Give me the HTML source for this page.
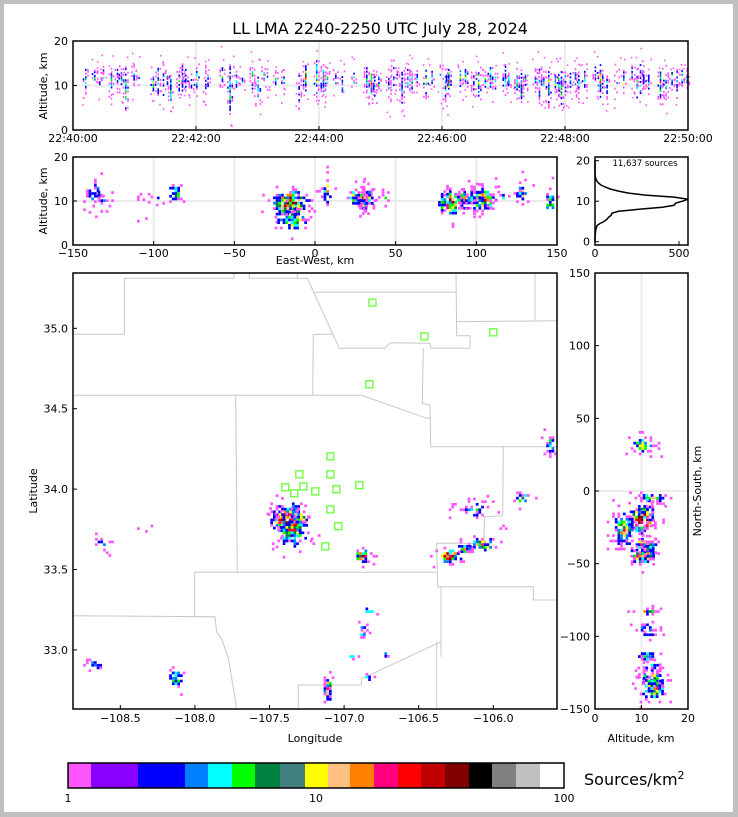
<!DOCTYPE html>
<html><head><meta charset="utf-8">
<style>
html,body{margin:0;padding:0;background:#c0c0c0;}
svg{display:block;font-family:"DejaVu Sans","Liberation Sans",sans-serif;}
</style></head>
<body>
<svg id="fig" width="738" height="817" viewBox="0 0 738 817" xmlns="http://www.w3.org/2000/svg">
<rect x="0" y="0" width="738" height="817" fill="#c0c0c0"/>
<rect x="4" y="4" width="729" height="808" fill="#ffffff"/>
<text x="380" y="34" font-size="16" text-anchor="middle">LL LMA 2240-2250 UTC July 28, 2024</text>
<g id="gTime"></g>
<g id="gEW"></g>
<g id="gHist"></g>
<g id="gMap"></g>
<g id="gNS"></g>
<g id="gCbar"></g>
<text x="584" y="785" font-size="16">Sources/km<tspan font-size="11" dy="-6">2</tspan></text>
</svg>
<script>
// ---------- DATA ----------
const flashTimes=[11.7,20.5,25.4,29,36.8,42.6,46.5,50.7,58.8,63.7,77.7,82.3,87.5,91.4,94.6,102.8,106,109.3,114.8,120,128.8,131,145,152.5,158.7,164.6,174.3,179.8,185.7,189,197,205.2,219.8,226.3,237,243.6,247.5,255.6,262,273.5,285.9,290.4,293.7,297.6,307.3,312.2,315.5,320.3,325.9,330,335,343.7,349.6,357.7,362.6,365.9,377.2,382.1,390.2,395,401.6,406.5,411.4,421.2,424.4,432.5,436.8,440.7,450.4,454.3,458.5,463.4,469.9,473.2,475.8,479.7,484.6,489.5,492.7,498.5,508.9,513.9,520.3,530,536.6,544.7,549.6,552.9,556.1,561,572.4,577.9,583.7,588.6,593.5,598.4];
const flashTop=[14,13,13,14,13,14,13,14,14,13,12,14,14,13,12,13,14,13,12,14,14,13,15,14,13,12,14,13,14,13,13,13,12,14,15,14,14,13,13,13,14,13,12,13,13,15,13,13,14,13,13,13,13,14,13,13,14,14,13,14,13,14,13,14,13,13,13,13,13,14,13,13,12,13,13,13,14,13,13,14,14,14,13,13,13,14,14,15,14,13,13,14,14,13,13,13];
const flashBot=[8,10,9,10,7,8,9,4,10,10,8,7,7,9,5,8,8,8,7,8,6,9,8,4,8,9,8,5,9,9,9,8,5,8,7,7,8,5,6,8,8,7,6,8,6,8,9,4,8,8,9,7,8,9,6,8,9,8,7,6,8,8,8,7,8,7,5,8,9,6,8,5,8,6,5,7,8,9,7,8,9,7,7,8,7,8,6,7,8,8,7,6,9,8,9,9];
const flashPeak=[0.5,0.5,0.4,0.4,0.5,0.4,0.5,0.5,0.4,0.3,0.6,0.5,0.4,0.5,0.5,0.4,0.5,0.5,0.4,0.5,0.3,0.4,0.5,0.6,0.4,0.4,0.5,0.5,0.4,0.3,0.4,0.4,0.4,0.8,0.6,0.7,0.5,0.3,0.4,0.4,0.5,0.8,0.4,0.5,0.4,0.4,0.3,0.4,0.5,0.5,0.4,0.5,0.4,0.3,0.5,0.8,0.5,0.5,0.4,0.5,0.4,0.6,0.4,0.5,0.4,0.5,0.5,0.4,0.4,0.5,0.4,0.6,0.6,0.5,0.6,0.4,0.3,0.6,0.4,0.5,0.4,0.8,0.4,0.3,0.5,0.4,0.4,0.5,0.4,0.4,0.8,0.4,0.4,0.5,0.4,0.5];
// clusters in km relative to network center
const clX=[-16,-15,29,83,103,92,98,128,145,116,33,30,28,23,43,33,7,-87,-137,-133,-107,-98];
const clY=[-19,-26,-44,-44,-36,-39,-12,-4,32,-25,-82,-93,-98,-113,-111,-127,-135,-128,-119,-36,-25,-5];
const clAlt=[9.8,6,10.5,10,10.5,10.5,11,12,10,11,11,11,11,11,11,11,12.5,12,12,11,10,11];
const clRx=[10,9,5,7,8,5,9,4,3.5,2,3,3,3,3,2,3,3,4,5,6,6,2];
const clRy=[9,11,4,5,4,3,5,4,6,2,2,3,2,3,2,3,8,6,4,4,3,1];
const clRz=[2.5,2.2,2,2.5,2.5,2,2,2.5,2.5,1,2,2,2,2,1.5,2,2.5,2,2.5,2.5,2,1];
const clPeak=[1.3,0.75,1.0,1.05,0.85,0.7,0.4,0.6,0.6,0.4,0.65,0.55,0.5,0.55,0.5,0.5,0.75,0.6,0.4,0.3,0.2,0.3];
const stLon=[-106.81,-106.462,-106.0,-106.831,-107.092,-107.30,-107.092,-107.394,-107.273,-107.334,-107.193,-107.052,-106.898,-107.092,-107.039,-107.126];
const stLat=[35.16,34.95,34.975,34.652,34.204,34.092,34.092,34.011,34.017,33.974,33.986,33.999,34.024,33.874,33.769,33.644];
const histAlt=[0,1,2,3,4,4.5,5,5.5,6,6.5,7,7.5,8,8.5,9,9.5,10,10.5,11,11.5,12,12.5,13,13.5,14,14.5,15,16,17,18,19,20];
const histCount=[0,0,2,5,12,30,55,70,80,95,100,140,260,400,470,480,520,555,470,300,200,140,90,60,35,20,10,2,0,0,0,0];
const timeTicks=["22:40:00","22:42:00","22:44:00","22:46:00","22:48:00","22:50:00"];
const ewTicks=[-150,-100,-50,0,50,100,150];
const lonTicks=[-108.5,-108.0,-107.5,-107.0,-106.5,-106.0];
const latTicks=[33.0,33.5,34.0,34.5,35.0];
const nsTicks=[150,100,50,0,-50,-100,-150];
const cbColors=["#ff55ff","#8800ff","#0000ff","#0080ff","#00ffff","#00ff00","#008040","#408080","#ffff00","#ffc080","#ff8000","#ff0080","#ff0000","#c00000","#800000","#000000","#808080","#c0c0c0","#ffffff"];
const cbEdges=[68,91,138,185,208,232,255,280,305,328,350,374,398,421,445,469,492,516,540,564];
const densColors=["#ff55ff","#ff55ff","#0000ff","#0000ff","#0080ff","#00ffff","#00ff00","#008040","#ffff00","#ffc080","#ff8000","#ff0080","#ff0000","#c00000","#800000"];

// ---------- AXES ----------
const NS="http://www.w3.org/2000/svg";
const tx=t=>73+t*615/600, tAy=a=>130-a*89/20;
const ex=k=>315+k*1.6133, eAy=a=>245-a*88/20;
const mx=k=>315+k*1.6133, my=k=>491-k*1.4533;
const lonX=l=>73+(l+108.817)*149.2, latY=l=>273+(35.344-l)*160.8;
const nx=a=>595+a*93/20;
const hx=c=>595+c*0.168, hy=a=>241.7-a*4.05;

function el(tag,attrs,parent){const e=document.createElementNS(NS,tag);for(const k in attrs)e.setAttribute(k,attrs[k]);parent.appendChild(e);return e;}
function txt(parent,x,y,s,anchor,size){const t=el('text',{x:x,y:y,'font-size':size||11,'text-anchor':anchor||'middle'},parent);t.textContent=s;return t;}
function hash(a,b,c){let h=(a*374761393+b*668265263+c*2147483647)|0;h=Math.imul(h^(h>>>13),1274126177);h=h^(h>>>16);return ((h>>>0)%10000)/10000;}
function colorFor(v){return densColors[Math.max(0,Math.min(densColors.length-1,Math.floor(v*densColors.length)))];}

// speckled cloud of cells in pixel space
function cloud(g,cx,cy,rx,ry,peak,cell,seed){
  const nx_=Math.ceil(rx*2/cell), ny_=Math.ceil(ry*2/cell);
  for(let i=-nx_;i<=nx_;i++)for(let j=-ny_;j<=ny_;j++){
    const dx=i*cell/rx, dy=j*cell/ry, d2=dx*dx+dy*dy;
    const dens=peak*Math.exp(-d2*1.4);
    const h=hash(i+seed*31,j+seed*7,seed), h2=hash(j+seed,i+7,seed+3);
    const p=Math.min(0.92,dens*1.6+0.02*(d2<5?1:0));
    if(h>p) continue;
    const r=el('rect',{x:(cx+i*cell).toFixed(1),y:(cy+j*cell).toFixed(1),width:cell,height:cell,fill:colorFor(dens*(0.25+0.95*h2))},g);
    
    
  }
}
function frame(g,x,y,w,h,name){const r=el('rect',{x:x,y:y,width:w,height:h,fill:'none',stroke:'#000','stroke-width':1.5},g);}
function grid(g,x1,y1,x2,y2){el('line',{x1:x1,y1:y1,x2:x2,y2:y2,stroke:'#ebebeb','stroke-width':2},g);}
function tickV(g,x,yb,up){el('line',{x1:x,y1:yb,x2:x,y2:yb+(up?-4:4),stroke:'#000'},g);}
function tickH(g,xl,y,right){el('line',{x1:xl,y1:y,x2:xl+(right?4:-4),y2:y,stroke:'#000'},g);}

// ---------- TIME PANEL ----------
(function(){
  const g=document.getElementById('gTime');
  el('rect',{x:73,y:41,width:615,height:89,fill:'#fff'},g);
  grid(g,73,tAy(10),688,tAy(10));
  for(let i=1;i<5;i++)grid(g,tx(i*120),41,tx(i*120),130);
  flashTimes.forEach((t,i)=>{
    const top=flashTop[i],bot=flashBot[i],pk=flashPeak[i],mid=(top+bot)/2+0.8,half=(top-bot)/2;
    for(let a=bot-1;a<=top+1;a+=0.42){
      for(let c=-1;c<=1;c++){
        const dn=pk*Math.exp(-Math.pow((a-mid)/half,2)*1.3)*(c===0?1:0.35);
        const h=hash(i,Math.round(a*10),c+5);
        if(h>dn*1.7)continue;
        const r=el('rect',{x:(tx(t)+c*2.2).toFixed(1),y:tAy(a).toFixed(1),width:1.6,height:2,fill:colorFor(dn*(0.2+0.9*hash(c+3,i,Math.round(a*7))))},g);
        
        
      }
    }
    for(let k=0;k<3;k++){const a=bot-3+hash(i,k,9)*(top-bot+7);
      const r=el('rect',{x:(tx(t)+(hash(k,i,2)-0.5)*6).toFixed(1),y:tAy(a).toFixed(1),width:1.6,height:1.6,fill:'#ff55ff'},g);
      
      }
  });
  frame(g,73,41,615,89,'time-panel-frame');
  [0,10,20].forEach(v=>{tickH(g,73,tAy(v),true);txt(g,68,tAy(v)+4,String(v),'end');});
  timeTicks.forEach((s,i)=>{const x=tx(i*120);tickV(g,x,130,true);txt(g,x,142,s);});
  const yl=txt(g,0,0,'Altitude, km');yl.setAttribute('transform','translate(47,86) rotate(-90)');
  
})();

// ---------- EW PANEL ----------
(function(){
  const g=document.getElementById('gEW');
  el('rect',{x:73,y:157,width:484,height:88,fill:'#fff'},g);
  grid(g,73,eAy(10),557,eAy(10));
  ewTicks.forEach(v=>grid(g,ex(v),157,ex(v),245));
  clX.forEach((k,i)=>cloud(g,ex(k),eAy(clAlt[i]),clRx[i]*1.6133,clRz[i]*4.4,clPeak[i],2.7,i+1));
  frame(g,73,157,484,88,'ew-panel-frame');
  [0,10,20].forEach(v=>{tickH(g,73,eAy(v),true);txt(g,68,eAy(v)+4,String(v),'end');});
  ewTicks.forEach(v=>{tickV(g,ex(v),245,true);txt(g,ex(v),257,String(v).replace('-','\u2212'));});
  const xl=txt(g,315,264,'East-West, km');
  const yl=txt(g,0,0,'Altitude, km');yl.setAttribute('transform','translate(47,201) rotate(-90)');
  
})();

// ---------- HISTOGRAM ----------
(function(){
  const g=document.getElementById('gHist');
  el('rect',{x:595,y:157,width:93,height:88,fill:'#fff'},g);
  let d='';histAlt.forEach((a,i)=>{d+=(i?'L':'M')+hx(histCount[i]).toFixed(1)+','+hy(a).toFixed(1);});
  const p=el('path',{d:d,fill:'none',stroke:'#000','stroke-width':1.5},g);
  
  
  frame(g,595,157,93,88,'histogram-frame');
  txt(g,645,166,'11,637 sources','middle',8.5);
  [0,10,20].forEach(v=>{tickH(g,595,hy(v),true);txt(g,590,hy(v)+4,String(v),'end');});
  [0,500].forEach(v=>{tickV(g,hx(v),245,true);txt(g,hx(v),257,String(v));});
})();

// ---------- MAP ----------
(function(){
  const g=document.getElementById('gMap');
  el('rect',{x:73,y:273,width:484,height:436,fill:'#fff'},g);
  const cp=el('clipPath',{id:'mapclip'},g);el('rect',{x:73,y:273,width:484,height:436},cp);
  const inner=el('g',{'clip-path':'url(#mapclip)'},g);
  const lines=[
   "73.3,334.3 124.3,334.3 124.3,278.3 234,278.3 234,273",
   "249.3,273 249.3,278.3 307.3,278.3 339.3,348.3 385,348.3 390,342.7 430,343.3 431,348.3 470,348.3 470,335.7 456.7,335.7 456,273",
   "297.3,273 297.3,278.3","313.3,292.3 456,292.3","456.7,321.7 557.7,320.7","535,273 535,320.7",
   "313.3,334.3 333.3,334.3","313.3,334.3 312.7,395.3",
   "73.3,395.3 361.7,395.3 426.7,418.3 430,418.3",
   "423.3,348.3 422.3,403.3 430,405 430.7,446.7 557.7,446.7",
   "235.7,395.3 237.3,572.3","194.7,572.3 436.7,572.3",
   "503.3,446.7 502.7,515.7 484.3,516.7 484,543.3 436.7,543.3 437.7,586.7 533.3,586.7 533.3,600 557.7,600",
   "194.7,572.3 194.7,616.7 215,616.7 216.7,631.7 222,640 228.3,658.3 232,680 236.7,709",
   "73.3,615.7 215,616.7","441,586.7 441,656.7",
   "441,641.7 373.3,673.3 361.7,678.3 361,685 298.3,685 298.3,709","436.7,641.7 436.7,709"];
  lines.forEach(pts=>{const l=el('polyline',{points:pts,fill:'none',stroke:'#c8c8c8','stroke-width':1},inner);
    });
  clX.forEach((k,i)=>cloud(inner,mx(k),my(clY[i]),clRx[i]*1.6133,clRy[i]*1.4533,clPeak[i],2.7,i+40));
  stLon.forEach((lo,i)=>{const r=el('rect',{x:lonX(lo)-3.5,y:latY(stLat[i])-3.5,width:7,height:7,fill:'none',stroke:'#66ff33','stroke-width':1.3},inner);
    });
  frame(g,73,273,484,436,'map-frame');
  lonTicks.forEach(v=>{const x=lonX(v);tickV(g,x,709,true);txt(g,x,722,'\u2212'+Math.abs(v).toFixed(1));});
  latTicks.forEach(v=>{const y=latY(v);tickH(g,73,y,true);txt(g,68,y+4,v.toFixed(1),'end');});
  txt(g,315,742,'Longitude');
  const yl=txt(g,0,0,'Latitude');yl.setAttribute('transform','translate(37,491) rotate(-90)');
  
})();

// ---------- NS PANEL ----------
(function(){
  const g=document.getElementById('gNS');
  el('rect',{x:595,y:273,width:93,height:436,fill:'#fff'},g);
  grid(g,nx(10),273,nx(10),709);grid(g,595,my(0),688,my(0));
  const cp=el('clipPath',{id:'nsclip'},g);el('rect',{x:595,y:273,width:93,height:436},cp);
  const inner=el('g',{'clip-path':'url(#nsclip)'},g);
  clX.forEach((k,i)=>cloud(inner,nx(clAlt[i]),my(clY[i]),clRz[i]*4.65,clRy[i]*1.4533,clPeak[i],2.7,i+80));
  frame(g,595,273,93,436,'ns-panel-frame');
  nsTicks.forEach(v=>{tickH(g,595,my(v),true);txt(g,590,my(v)+4,String(v).replace('-','\u2212'),'end');});
  [0,10,20].forEach(v=>{tickV(g,nx(v),709,true);txt(g,nx(v),722,String(v));});
  txt(g,641,742,'Altitude, km');
  const yl=txt(g,0,0,'North-South, km');yl.setAttribute('transform','translate(701,491) rotate(-90)');
  
})();

// ---------- COLORBAR ----------
(function(){
  const g=document.getElementById('gCbar');
  cbColors.forEach((c,i)=>{const r=el('rect',{x:cbEdges[i],y:763,width:cbEdges[i+1]-cbEdges[i],height:25,fill:c},g);
    });
  frame(g,68,763,496,25,'colorbar-frame');
  [["1",68],["10",316],["100",564]].forEach(p=>txt(g,p[1],802,p[0]));
})();
</script>
</body></html>
